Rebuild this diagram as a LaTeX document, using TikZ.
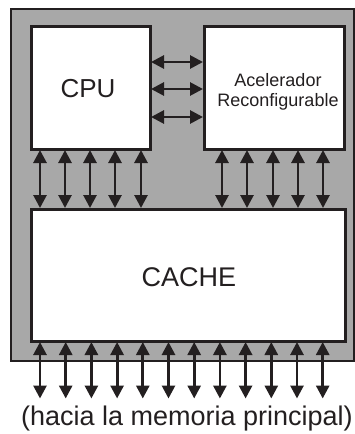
\documentclass[tikz,border=0pt]{standalone}
\usepackage{fontspec}
\setmainfont{Liberation Sans}
\usetikzlibrary{arrows.meta}
\definecolor{chipgray}{RGB}{168,168,168}
\definecolor{ink}{RGB}{35,31,32}
\tikzset{
  chip/.style={draw=ink, fill=chipgray, line width=2.5pt},
  block/.style={draw=ink, fill=white, line width=3pt, inner sep=0pt},
  bus/.style={draw=ink, line width=2.8pt, {Triangle[length=13pt,width=13pt]}-{Triangle[length=13pt,width=13pt]}, shorten <=-0.5pt, shorten >=-0.5pt}
}
\begin{document}
\begin{tikzpicture}[x=1pt,y=-1pt]
\useasboundingbox (0,0) rectangle (355,434);
\draw[chip] (11,9) rectangle (354,361);
\node[block, minimum width=119pt, minimum height=123pt] (cpu) at (90.5,87.5) {};
\node[font=\fontsize{26}{30}\selectfont, text=ink] (cputxt) at (88,89) {CPU};
\node[block, minimum width=140pt, minimum height=123pt] (acc) at (274,87.5) {};
\node[font=\fontsize{18}{20}\selectfont, text=ink, align=center] (acctxt) at (278,92) {Acelerador\\Reconfigurable};
\node[block, minimum width=314pt, minimum height=132pt] (cache) at (188,275) {};
\node[font=\fontsize{27}{30}\selectfont, text=ink] (cachetxt) at (189,277) {CACHE};
% horizontal buses
\foreach \yy [count=\i] in {62,89,117} {
  \coordinate (hl\i) at (cpu.east |- 0,\yy);
  \coordinate (hr\i) at (acc.west |- 0,\yy);
  \draw[bus] (hl\i) -- (hr\i);
}
% cpu - cache
\foreach \xx [count=\i] in {40,65,90,115,141} {
  \coordinate (ct\i) at (\xx,0 |- cpu.south);
  \coordinate (cb\i) at (\xx,0 |- cache.north);
  \draw[bus] (ct\i) -- (cb\i);
}
% acc - cache
\foreach \xx [count=\i] in {222,247,273,298,323} {
  \coordinate (at\i) at (\xx,0 |- acc.south);
  \coordinate (ab\i) at (\xx,0 |- cache.north);
  \draw[bus] (at\i) -- (ab\i);
}
% cache - memory
\foreach \i in {0,...,11} {
  \coordinate (mt\i) at ({40+25.7*\i},0 |- cache.south);
  \coordinate (mb\i) at ({40+25.7*\i},398);
  \draw[bus] (mt\i) -- (mb\i);
}
\node[font=\fontsize{27}{30}\selectfont, text=ink, anchor=base] (mem) at (187,425) {(hacia la memoria principal)};
\end{tikzpicture}
\end{document}
